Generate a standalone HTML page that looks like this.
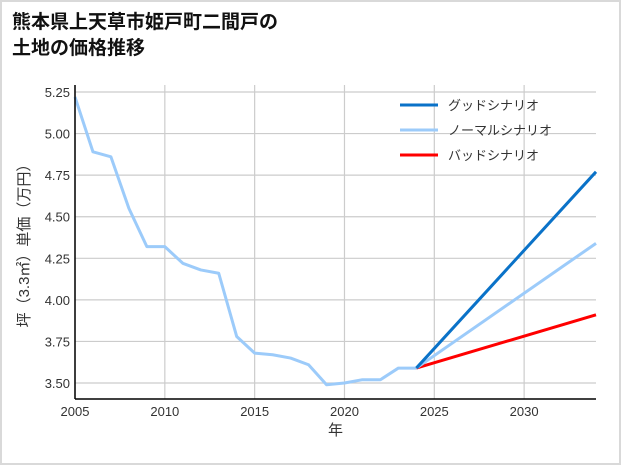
<!DOCTYPE html>
<html><head><meta charset="utf-8"><style>
body{margin:0;background:#fff;}
#wrap{position:relative;width:617px;height:461px;border:2px solid #d9d9d9;background:#fff;overflow:hidden;}
#title{position:absolute;left:10px;top:8px;font:bold 19px/26px "Liberation Sans","Noto Sans CJK JP",sans-serif;color:#111;}
svg{position:absolute;left:0;top:0;}
text{font-family:"Liberation Sans","Noto Sans CJK JP",sans-serif;fill:#333;}
</style></head><body>
<div id="wrap">
<div id="title">熊本県上天草市姫戸町二間戸の<br>土地の価格推移</div>
<svg id="chart" width="617" height="461"></svg>
</div>
<script>
const years=[2005,2006,2007,2008,2009,2010,2011,2012,2013,2014,2015,2016,2017,2018,2019,2020,2021,2022,2023,2024];
const prices=[5.22,4.89,4.86,4.55,4.32,4.32,4.22,4.18,4.16,3.78,3.68,3.67,3.65,3.61,3.49,3.50,3.52,3.52,3.59,3.59];
const projYears=[2024,2034];
const goodVals=[3.59,4.77];
const normalVals=[3.59,4.34];
const badVals=[3.59,3.91];
const xTicks=[2005,2010,2015,2020,2025,2030];
const yTicks=[3.50,3.75,4.00,4.25,4.50,4.75,5.00,5.25];
const legendLabels=["グッドシナリオ","ノーマルシナリオ","バッドシナリオ"];
const legendColors=["#0a72c8","#9ccbfa","#f00"];

const ns="http://www.w3.org/2000/svg";
const svg=document.getElementById('chart');
const X0=73,X1=594,Y0=83,Y1=397;
const xMin=2005,xMax=2034,yMin=3.404,yMax=5.292;
const sx=v=>X0+(v-xMin)/(xMax-xMin)*(X1-X0);
const sy=v=>Y1-(v-yMin)/(yMax-yMin)*(Y1-Y0);
function mk(t,a){const e=document.createElementNS(ns,t);for(const k in a)e.setAttribute(k,a[k]);svg.appendChild(e);return e;}
xTicks.forEach(t=>{
 const l=mk('line',{x1:sx(t),x2:sx(t),y1:Y0,y2:Y1,stroke:'#cccccc','stroke-width':1.2});
 
 
 const tx=mk('text',{x:sx(t),y:Y1+17,'text-anchor':'middle','font-size':13});
 tx.textContent=t;
 
 
});
yTicks.forEach(t=>{
 const l=mk('line',{x1:X0,x2:X1,y1:sy(t),y2:sy(t),stroke:'#cccccc','stroke-width':1.2});
 
 
 const tx=mk('text',{x:X0-5,y:sy(t)+5,'text-anchor':'end','font-size':13});
 tx.textContent=t.toFixed(2);
 
 
});
function line(xs,ys,c,name){
 const p=mk('polyline',{points:xs.map((x,i)=>sx(x)+','+sy(ys[i])).join(' '),fill:'none',stroke:c,'stroke-width':3,'stroke-linejoin':'round'});
 
 
}
line(years,prices,'#9ccbfa','historical-price-line');
line(projYears,badVals,'#f00','bad-scenario-line');
line(projYears,normalVals,'#9ccbfa','normal-scenario-line');
line(projYears,goodVals,'#0a72c8','good-scenario-line');
const ax1=mk('line',{x1:X0,x2:X0,y1:Y0,y2:Y1,stroke:'#000','stroke-width':1.5});


const ax2=mk('line',{x1:X0,x2:X1,y1:Y1,y2:Y1,stroke:'#000','stroke-width':1.5});


legendLabels.forEach((lab,i)=>{
 const y=103+i*25;
 const l=mk('line',{x1:398,x2:436,y1:y,y2:y,stroke:legendColors[i],'stroke-width':3});
 
 
 const t=mk('text',{x:446,y:y+5,'font-size':13});
 t.textContent=lab;
 
 
});
const xt=mk('text',{x:(X0+X1)/2,y:Y1+36,'text-anchor':'middle','font-size':15});
xt.textContent='年';


const yt=mk('text',{x:0,y:0,'text-anchor':'middle','font-size':15,transform:'translate(27,'+((Y0+Y1)/2)+') rotate(-90)'});
yt.textContent='坪（3.3㎡）単価（万円）';


</script>
</body></html>
